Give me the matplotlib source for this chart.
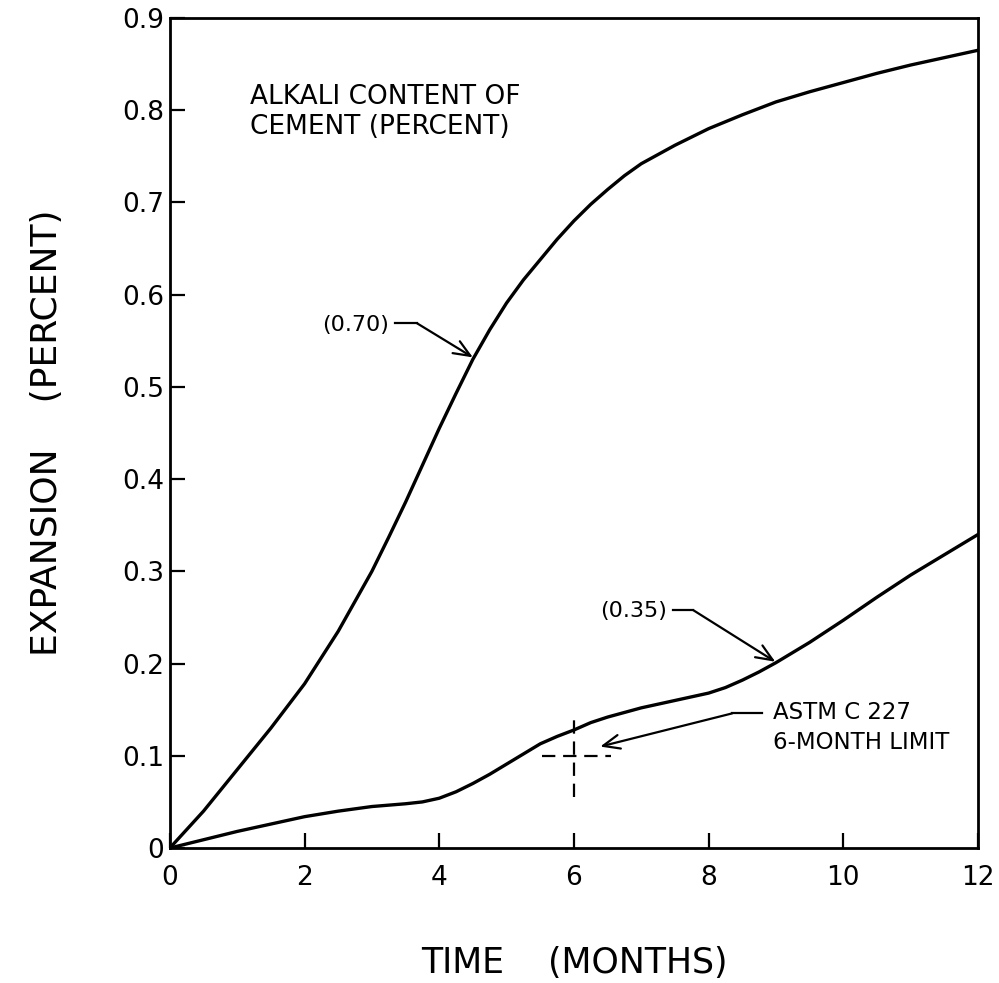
import matplotlib.pyplot as plt

# expansion curves (months, percent)
months_070 = [0, 0.5, 1, 1.5, 2, 2.5, 3, 3.25, 3.5, 3.75, 4, 4.25, 4.5, 4.75, 5, 5.25, 5.5,
              5.75, 6, 6.25, 6.5, 6.75, 7, 7.5, 8, 8.5, 9, 9.5, 10, 10.5, 11, 11.5, 12]
expansion_070 = [0, 0.04, 0.085, 0.13, 0.178, 0.235, 0.30, 0.337, 0.375, 0.415, 0.455, 0.493,
                 0.53, 0.562, 0.591, 0.616, 0.638, 0.66, 0.68, 0.698, 0.714, 0.729, 0.742,
                 0.762, 0.78, 0.795, 0.809, 0.82, 0.83, 0.84, 0.849, 0.857, 0.865]

months_035 = [0, 0.5, 1, 1.5, 2, 2.5, 3, 3.5, 3.75, 4, 4.25, 4.5, 4.75, 5, 5.25, 5.5, 5.75,
              6, 6.25, 6.5, 7, 7.5, 8, 8.25, 8.5, 8.75, 9, 9.5, 10, 10.5, 11, 11.5, 12]
expansion_035 = [0, 0.009, 0.018, 0.026, 0.034, 0.04, 0.045, 0.048, 0.05, 0.054, 0.061, 0.07,
                 0.08, 0.091, 0.102, 0.113, 0.121, 0.128, 0.136, 0.142, 0.152, 0.16, 0.168,
                 0.174, 0.182, 0.191, 0.201, 0.223, 0.247, 0.272, 0.296, 0.318, 0.34]

x_ticks = [0, 2, 4, 6, 8, 10, 12]
y_ticks = [0, 0.1, 0.2, 0.3, 0.4, 0.5, 0.6, 0.7, 0.8, 0.9]
y_tick_labels = ["0", "0.1", "0.2", "0.3", "0.4", "0.5", "0.6", "0.7", "0.8", "0.9"]

# ASTM C 227 six-month limit
limit_month = 6
limit_value = 0.1


def main():
    plt.rcParams["font.family"] = ["DejaVu Sans"]

    fig = plt.figure(figsize=(9.99, 9.83), dpi=100)
    ax = fig.add_axes([0.170, 0.1373, 0.809, 0.8444])

    ax.plot(months_070, expansion_070, color="black", lw=2.4)
    ax.plot(months_035, expansion_035, color="black", lw=2.4)

    # dashed cross at the 6-month limit
    ax.plot([limit_month - 0.48, limit_month + 0.55], [limit_value, limit_value],
            color="black", lw=1.6, dashes=(6, 3.5))
    ax.plot([limit_month, limit_month], [limit_value - 0.045, limit_value + 0.045],
            color="black", lw=1.6, dashes=(6, 3.5))

    arrow = dict(arrowstyle="->,head_length=0.6,head_width=0.25", color="black",
                 lw=1.6, shrinkA=0, shrinkB=0, mutation_scale=20)

    ax.text(1.19, 0.798, "ALKALI CONTENT OF\nCEMENT (PERCENT)", fontsize=19,
            va="center", ha="left", linespacing=1.2)

    ax.text(3.25, 0.567, "(0.70)", fontsize=16, ha="right", va="center")
    ax.plot([3.34, 3.67], [0.569, 0.569], color="black", lw=1.6)
    ax.annotate("", xy=(4.5, 0.532), xytext=(3.67, 0.569), arrowprops=arrow)

    ax.text(7.38, 0.257, "(0.35)", fontsize=16, ha="right", va="center")
    ax.plot([7.47, 7.77], [0.258, 0.258], color="black", lw=1.6)
    ax.annotate("", xy=(8.99, 0.202), xytext=(7.77, 0.258), arrowprops=arrow)

    ax.text(8.96, 0.147, "ASTM C 227", fontsize=16.5, ha="left", va="center")
    ax.text(8.96, 0.114, "6-MONTH LIMIT", fontsize=16.5, ha="left", va="center")
    ax.plot([8.35, 8.79], [0.146, 0.146], color="black", lw=1.6)
    ax.annotate("", xy=(6.39, 0.11), xytext=(8.35, 0.146), arrowprops=arrow)

    ax.set_xlim(0, 12)
    ax.set_ylim(0, 0.9)
    ax.set_xticks(x_ticks)
    ax.set_xticklabels([str(t) for t in x_ticks])
    ax.set_yticks(y_ticks)
    ax.set_yticklabels(y_tick_labels)
    ax.tick_params(axis="both", direction="in", length=11, width=1.6, labelsize=19)
    ax.tick_params(axis="x", pad=12)
    ax.tick_params(axis="y", pad=4)

    for spine in ax.spines.values():
        spine.set_linewidth(2.0)

    ax.set_xlabel("TIME    (MONTHS)", fontsize=25, labelpad=40)
    ax.set_ylabel("EXPANSION    (PERCENT)", fontsize=26, labelpad=42)

    fig.savefig("out.png", dpi=100)
    plt.close(fig)


if __name__ == "__main__":
    main()
